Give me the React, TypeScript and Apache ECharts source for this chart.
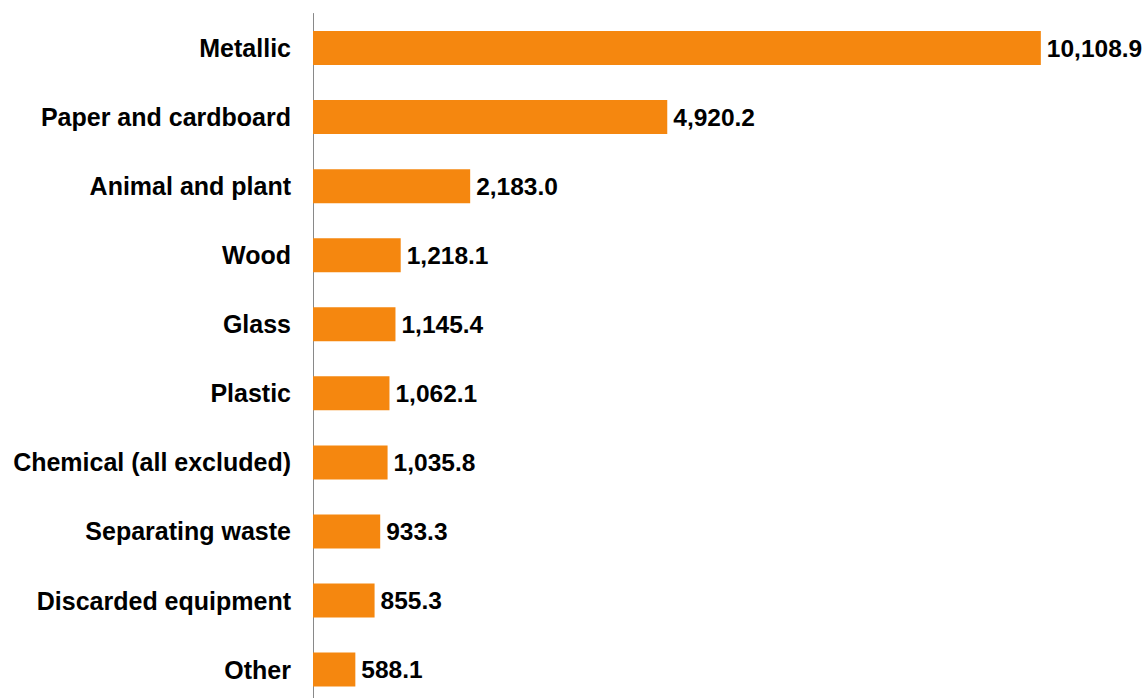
import React, { useEffect, useRef } from "react";
import * as echarts from "echarts";

const categories = [
  "Metallic",
  "Paper and cardboard",
  "Animal and plant",
  "Wood",
  "Glass",
  "Plastic",
  "Chemical (all excluded)",
  "Separating waste",
  "Discarded equipment",
  "Other",
];

const values = [10108.9, 4920.2, 2183.0, 1218.1, 1145.4, 1062.1, 1035.8, 933.3, 855.3, 588.1];

const fmt = (v: number) =>
  v.toLocaleString("en-US", { minimumFractionDigits: 1, maximumFractionDigits: 1 });

export default function App() {
  const ref = useRef<HTMLDivElement>(null);
  useEffect(() => {
    document.body.style.margin = "0";
    document.body.style.overflow = "hidden";
    document.documentElement.style.overflow = "hidden";
    const chart = echarts.init(ref.current!, null, { renderer: "svg" });
    const font = "'Liberation Sans', Arial, sans-serif";
    chart.setOption({
      animation: false,
      backgroundColor: "#ffffff",
      grid: { left: 313, top: 13.5, width: 792, height: 690.6 },
      xAxis: {
        type: "value",
        min: 0,
        max: 11000,
        show: false,
        splitLine: { show: false },
      },
      yAxis: {
        type: "category",
        inverse: true,
        data: categories,
        axisLine: { show: true, lineStyle: { color: "#898989", width: 1 } },
        axisTick: { show: false },
        axisLabel: {
          margin: 22,
          color: "#000000",
          fontFamily: font,
          fontWeight: "bold",
          fontSize: 25,
        },
      },
      series: [
        {
          type: "bar",
          data: values,
          barWidth: 34,
          itemStyle: { color: "#F5870F" },
          label: {
            show: true,
            position: "right",
            distance: 6,
            color: "#000000",
            fontFamily: font,
            fontWeight: "bold",
            fontSize: 24.5,
            formatter: (p: any) => fmt(p.value),
          },
        },
      ],
    });
    return () => chart.dispose();
  }, []);
  return <div ref={ref} style={{ width: 1147, height: 720 }} />;
}
